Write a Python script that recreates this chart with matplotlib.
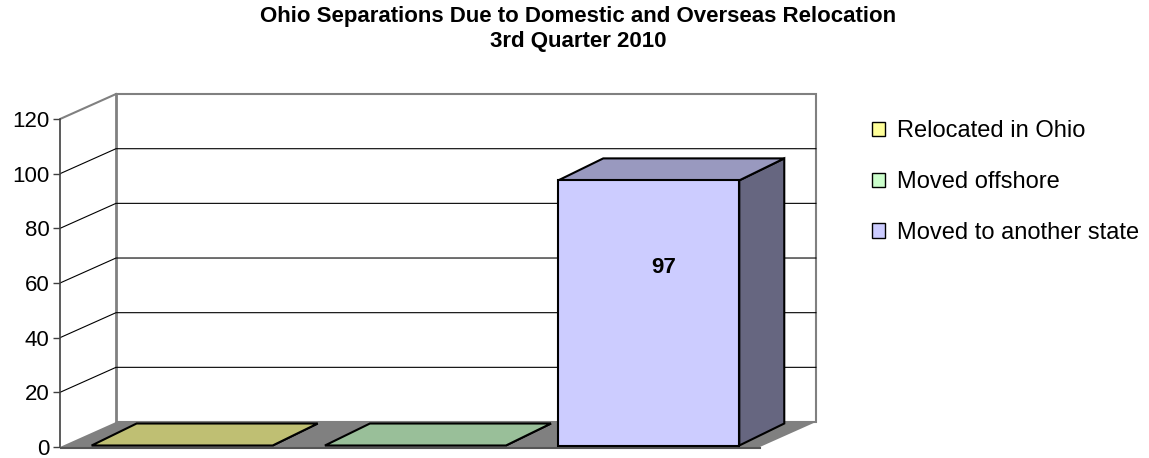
import matplotlib.pyplot as plt
from matplotlib.patches import Polygon, Patch

# Data
categories = ['Relocated in Ohio', 'Moved offshore', 'Moved to another state']
values = [0, 0, 97]
front_colors = ['#FFFF99', '#CCFFCC', '#CCCCFF']
top_colors = ['#BFBF73', '#99BF99', '#9999BF']
side_colors = ['#80804D', '#668066', '#666680']
yticks = [0, 20, 40, 60, 80, 100, 120]
title = 'Ohio Separations Due to Domestic and Overseas Relocation\n3rd Quarter 2010'

plt.rcParams['font.family'] = ['Liberation Sans', 'DejaVu Sans']

W, H = 1149, 458
fig = plt.figure(figsize=(W / 100, H / 100), dpi=100)

# pixel scale of the plot area
px_cat = 233.3   # pixels per category
px_val = 2.733   # pixels per unit value
x0_px, y0_px = 60, 447
xlim = (0, 3.27)
ylim = (-1.5, 130)
ax = fig.add_axes([x0_px / W,
                   (H - (y0_px - ylim[0] * px_val)) / H,
                   (xlim[1] - xlim[0]) * px_cat / W,
                   (ylim[1] - ylim[0]) * px_val / H])
ax.set_xlim(*xlim)
ax.set_ylim(*ylim)

# depth of walls and bars (in data units)
ddx, ddy = 56 / px_cat, 25 / px_val
bdx, bdy = 45 / px_cat, 22 / px_val
offx, offy = (ddx - bdx) / 2, (ddy - bdy) / 2
n = len(categories)
ymax = yticks[-1]
gray = '#808080'

# walls
ax.add_patch(Polygon([(ddx, ddy), (n + ddx, ddy), (n + ddx, ymax + ddy), (ddx, ymax + ddy)],
                     closed=True, facecolor='white', edgecolor=gray, lw=1.5, zorder=1))
ax.add_patch(Polygon([(0, 0), (ddx, ddy), (ddx, ymax + ddy), (0, ymax)],
                     closed=True, facecolor='white', edgecolor='none', zorder=1))
ax.plot([0, ddx], [ymax, ymax + ddy], color=gray, lw=1.5, zorder=2)
ax.plot([ddx, ddx], [ddy, ymax + ddy], color=gray, lw=2, zorder=2)

# gridlines
for t in yticks[1:-1]:
    ax.plot([0, ddx, n + ddx], [t, t + ddy, t + ddy], color='black', lw=0.8, zorder=2)

# floor
ax.add_patch(Polygon([(0, 0), (n, 0), (n + ddx, ddy), (ddx, ddy)],
                     closed=True, facecolor=gray, edgecolor='none', zorder=3))
ax.plot([0, n], [-0.4, -0.4], color='#555555', lw=1.5, zorder=3)

# bars
gap = 0.112
w = 1 - 2 * gap
for i, v in enumerate(values):
    x = i + gap + offx
    y = offy
    ax.add_patch(Polygon([(x + w, y), (x + w + bdx, y + bdy), (x + w + bdx, y + v + bdy), (x + w, y + v)],
                         closed=True, facecolor=side_colors[i], edgecolor='black', lw=1.5, zorder=4))
    ax.add_patch(Polygon([(x, y + v), (x + w, y + v), (x + w + bdx, y + v + bdy), (x + bdx, y + v + bdy)],
                         closed=True, facecolor=top_colors[i], edgecolor='black', lw=1.5, zorder=4))
    if v > 0:
        ax.add_patch(Polygon([(x, y), (x + w, y), (x + w, y + v), (x, y + v)],
                             closed=True, facecolor=front_colors[i], edgecolor='black', lw=1.5, zorder=5))
        ax.text(x + w / 2 + 0.065, v / 2 + 17, str(v), ha='center', va='center',
                fontsize=16, fontweight='bold', zorder=6)

# y axis
for s in ['top', 'right', 'bottom']:
    ax.spines[s].set_visible(False)
ax.spines['left'].set_bounds(0, ymax)
ax.spines['left'].set_color('#404040')
ax.spines['left'].set_linewidth(1.2)
ax.set_yticks(yticks)
ax.set_xticks([])
ax.tick_params(axis='y', length=5, width=1, color='#404040', labelsize=16, pad=2.5)
ax.patch.set_visible(False)

# legend
handles = [Patch(facecolor=c, edgecolor='black', lw=1) for c in front_colors]
fig.legend(handles, categories, loc='upper left', bbox_to_anchor=(851 / W, 1 - 99 / H),
           frameon=False, fontsize=17, handlelength=0.55, handleheight=0.55,
           handletextpad=0.5, labelspacing=1.22)

fig.text(578 / W, 1 - 29 / H, title, ha='center', va='center', fontsize=16,
         fontweight='bold', linespacing=1.2)

fig.savefig('out.png', dpi=100)
